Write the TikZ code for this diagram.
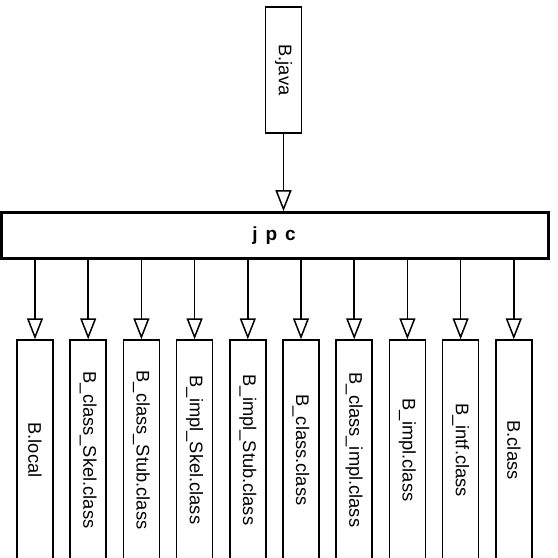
\documentclass[tikz,border=0pt]{standalone}
\usepackage{fontspec}
\setmainfont{Liberation Sans}
\usetikzlibrary{arrows.meta}
\tikzset{
  filebox/.style={draw, line width=1.5pt, fill=white, inner sep=0pt, minimum width=36pt, font=\fontsize{18.3}{20}\selectfont},
  tool/.style={draw, line width=2.6pt, fill=white, inner sep=0pt, minimum width=547pt, minimum height=46pt, font=\fontsize{19}{21}\selectfont\bfseries},
  flow/.style={line width=1.6pt, -{Triangle[open, width=16pt, length=21pt, line width=1.5pt]}}
}
\begin{document}
\begin{tikzpicture}[x=1pt, y=-1pt]
\useasboundingbox (0,0) rectangle (558,558);
\clip (0,0) rectangle (558,558);
\fill[white] (0,0) rectangle (558,558);
\node[filebox, minimum height=126pt] (java) at (283.5,70) {\rotatebox{-90}{B.java}};
\node[tool] (jpc) at (275,235.5) {\hspace*{-2pt}j\hspace{8pt}p\hspace{8pt}c};
\foreach \i/\t in {0/B.local, 1/B\_class\_Skel.class, 2/B\_class\_Stub.class, 3/B\_impl\_Skel.class, 4/B\_impl\_Stub.class, 5/B\_class.class, 6/B\_class\_impl.class, 7/B\_impl.class, 8/B\_intf.class, 9/B.class} {
  \node[filebox, minimum height=220pt] (f\i) at ({35+53.2*\i},450) {\rotatebox{-90}{\t}};
  \draw[flow] (f\i.north |- jpc.south) -- (f\i.north);
}
\draw[flow] (java.south) -- (java.south |- jpc.north);
\end{tikzpicture}
\end{document}
